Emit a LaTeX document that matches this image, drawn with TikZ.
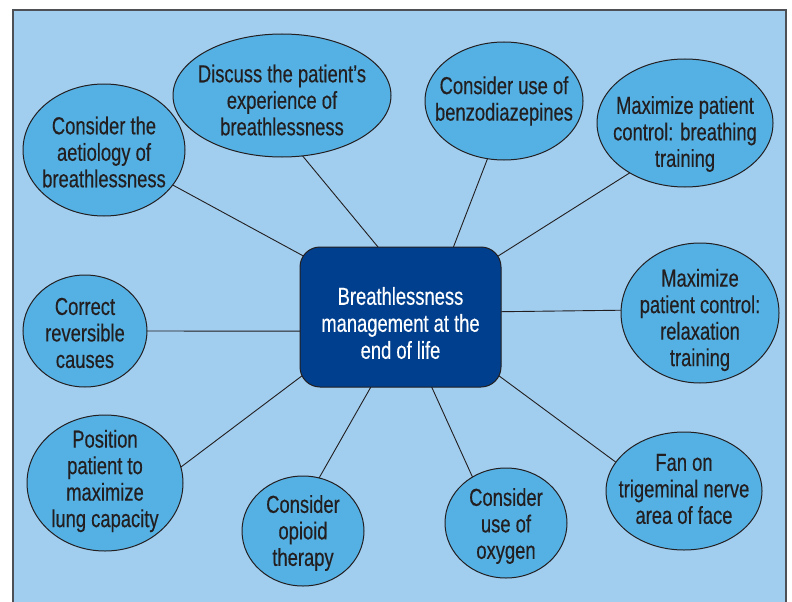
\documentclass[tikz,border=0pt]{standalone}
\usepackage{fontspec}
\setmainfont{Liberation Sans}[FakeStretch=0.75,FakeBold=0.35]
\usetikzlibrary{shapes.geometric,backgrounds}
\definecolor{panelblue}{HTML}{A1CDEE}
\definecolor{bubblue}{HTML}{55B1E4}
\definecolor{corefill}{HTML}{003F8D}
\definecolor{ink}{HTML}{231F20}
\definecolor{framegray}{HTML}{4D5055}
\begin{document}
\begin{tikzpicture}[x=1pt,y=-1pt,
  bubble/.style={ellipse, draw=ink, line width=1pt, fill=bubblue, inner sep=0pt},
  btext/.style={align=center, text=ink, font=\fontsize{24.5}{26.5}\selectfont, inner sep=0pt},
  corebox/.style={rectangle, rounded corners=20pt, draw=ink, line width=1pt, fill=corefill, minimum width=201pt, minimum height=140pt, inner sep=0pt},
  ctext/.style={align=center, text=white, font=\fontsize{24.5}{27}\selectfont, inner sep=0pt},
  conn/.style={draw=ink, line width=0.9pt, shorten <=-6pt, shorten >=-6pt}]
\useasboundingbox (0,0) rectangle (792,602);
\begin{pgfonlayer}{background}
  \fill[panelblue] (13,10) rectangle (786,602);
  \draw[framegray, line width=2pt] (13,602) -- (13,10) -- (786,10) -- (786,602);
\end{pgfonlayer}

% central box
\node[corebox] (ctr) at (400.5,317) {};
\node[ctext] (ctrt) at (400.5,323) {Breathlessness\\management at the\\end of life};

% bubbles
\node[bubble, minimum width=162pt, minimum height=132pt] (a) at (104,150) {};
\node[btext] (at) at (104,152) {Consider the\\aetiology of\\breathlessness};

\node[bubble, minimum width=218pt, minimum height=123pt] (b) at (282,95.5) {};
\node[btext] (bt) at (282,100) {Discuss the patient’s\\experience of\\breathlessness};

\node[bubble, minimum width=158pt, minimum height=118pt] (c) at (504,101) {};
\node[btext] (ct) at (504,101) {Consider use of\\benzodiazepines};

\node[bubble, minimum width=176pt, minimum height=128pt] (d) at (685,123) {};
\node[btext] (dt) at (685,134) {Maximize patient\\control: breathing\\training};

\node[bubble, minimum width=158pt, minimum height=140pt] (e) at (700,313) {};
\node[btext] (et) at (700,320) {Maximize\\patient control:\\relaxation\\training};

\node[bubble, minimum width=156pt, minimum height=118pt] (f) at (684,491) {};
\node[btext] (ft) at (684,489) {Fan on\\trigeminal nerve\\area of face};

\node[bubble, minimum width=122pt, minimum height=110pt] (g) at (506,523) {};
\node[btext] (gt) at (506,526) {Consider\\use of\\oxygen};

\node[bubble, minimum width=122pt, minimum height=110pt] (h) at (303,531) {};
\node[btext] (ht) at (303,533) {Consider\\opioid\\therapy};

\node[bubble, minimum width=156pt, minimum height=136pt] (i) at (105,483) {};
\node[btext] (it) at (105,481) {Position\\patient to\\maximize\\lung capacity};

\node[bubble, minimum width=124pt, minimum height=112pt] (j) at (85,331) {};
\node[btext] (jt) at (85,333) {Correct\\reversible\\causes};

% connectors
\begin{pgfonlayer}{background}
  \draw[conn] (a.-27.3) -- (ctr.148.7);
  \draw[conn] (b.-71.1) -- (ctr.108.9);
  \draw[conn] (c.-106.1) -- (ctr.53.1);
  \draw[conn] (d.-138.7) -- (ctr.32.9);
  \draw[conn] (e.178.5) -- (ctr.3.4);
  \draw[conn] (f.157.9) -- (ctr.-31.9);
  \draw[conn] (g.126.5) -- (ctr.-66.8);
  \draw[conn] (h.73.2) -- (ctr.-113.2);
  \draw[conn] (i.12.6) -- (ctr.-149.8);
  \draw[conn] (j.0) -- (ctr.-172.1);
\end{pgfonlayer}
\end{tikzpicture}
\end{document}
